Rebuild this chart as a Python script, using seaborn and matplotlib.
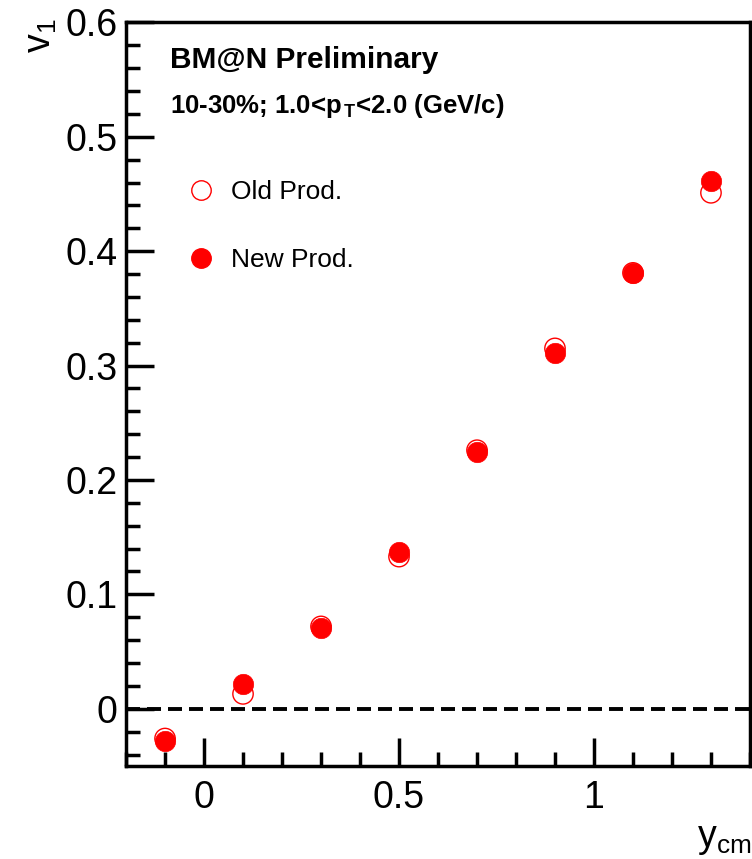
import numpy as np
import pandas as pd
import matplotlib
matplotlib.use("Agg")
import matplotlib.pyplot as plt
import seaborn as sns
from matplotlib.ticker import MultipleLocator
from matplotlib.lines import Line2D

# Data
y_cm = [-0.1, 0.1, 0.3, 0.5, 0.7, 0.9, 1.1, 1.3]
v1_old = [-0.026, 0.013, 0.072, 0.133, 0.226, 0.315, 0.381, 0.451]
v1_new = [-0.028, 0.022, 0.071, 0.137, 0.224, 0.311, 0.381, 0.461]
series_labels = ["Old Prod.", "New Prod."]
xtick_vals = [0, 0.5, 1]
xtick_labels = ["0", "0.5", "1"]
ytick_vals = [0, 0.1, 0.2, 0.3, 0.4, 0.5, 0.6]
ytick_labels = ["0", "0.1", "0.2", "0.3", "0.4", "0.5", "0.6"]

sns.set_theme(style="white")
plt.rcParams['font.family'] = ['Liberation Sans', 'DejaVu Sans']
plt.rcParams['mathtext.fontset'] = 'custom'
plt.rcParams['mathtext.rm'] = 'Liberation Sans'
plt.rcParams['mathtext.it'] = 'Liberation Sans:italic'
plt.rcParams['mathtext.bf'] = 'Liberation Sans:bold'
plt.rcParams['text.color'] = 'black'
plt.rcParams['xtick.color'] = 'black'
plt.rcParams['ytick.color'] = 'black'
plt.rcParams['axes.labelcolor'] = 'black'

df_old = pd.DataFrame({"y": y_cm, "v1": v1_old})
df_new = pd.DataFrame({"y": y_cm, "v1": v1_new})

fig = plt.figure(figsize=(7.52, 8.59), dpi=100)
ax = fig.add_axes([0.1676, 0.1083, 0.8297, 0.8657])

ax.axhline(0, color="black", lw=2.8, ls=(0, (3.6, 1.8)), zorder=1)

sns.scatterplot(data=df_old, x="y", y="v1", ax=ax, s=215, marker="o",
                facecolor="none", edgecolor="red", linewidth=1.0, zorder=3,
                legend=False)
sns.scatterplot(data=df_new, x="y", y="v1", ax=ax, s=215, marker="o",
                color="red", edgecolor="red", linewidth=0.5, zorder=4,
                legend=False)

ax.set_xlim(-0.2, 1.4)
ax.set_ylim(-0.05, 0.6)
ax.xaxis.set_minor_locator(MultipleLocator(0.1))
ax.yaxis.set_minor_locator(MultipleLocator(0.02))
ax.set_xticks(xtick_vals)
ax.set_xticklabels(xtick_labels)
ax.set_yticks(ytick_vals)
ax.set_yticklabels(ytick_labels)
ax.tick_params(axis="both", which="major", direction="in", length=20, width=2.5,
               labelsize=27, bottom=True, left=True, top=False, right=False)
ax.tick_params(axis="y", which="major", pad=6)
ax.tick_params(axis="x", which="major", pad=10)
ax.tick_params(axis="both", which="minor", direction="in", length=10, width=2.5,
               bottom=True, left=True, top=False, right=False)
for sp in ax.spines.values():
    sp.set_linewidth(2.5)
    sp.set_color("black")
ax.set_xlabel("")
ax.set_ylabel("")

fig.text(0.030, 0.978, r"v$_{\mathregular{1}}$", rotation=90, fontsize=27,
         ha="left", va="top")
fig.text(0.999, 0.002, r"y$_{\mathregular{cm}}$", fontsize=27, ha="right", va="bottom")

ax.text(0.070, 0.949, "BM@N Preliminary", transform=ax.transAxes, fontsize=21.5,
        fontweight="bold", va="center", ha="left")
ax.text(0.070, 0.887, r"10-30%; 1.0<p$_{\mathbf{\,T}}$<2.0 (GeV/c)", transform=ax.transAxes,
        fontsize=18.5, fontweight="bold", va="center", ha="left")

# legend
handles = [Line2D([], [], marker="o", ls="", markersize=14, markerfacecolor="none",
                  markeredgecolor="red", markeredgewidth=1.0),
           Line2D([], [], marker="o", ls="", markersize=14, markerfacecolor="red",
                  markeredgecolor="red")]
leg = ax.legend(handles, series_labels, loc="center left", bbox_to_anchor=(0.082, 0.726),
                frameon=False, fontsize=19, handletextpad=0.65, labelspacing=1.65,
                borderaxespad=0, handlelength=1.0)

fig.savefig("out.png", dpi=100)
